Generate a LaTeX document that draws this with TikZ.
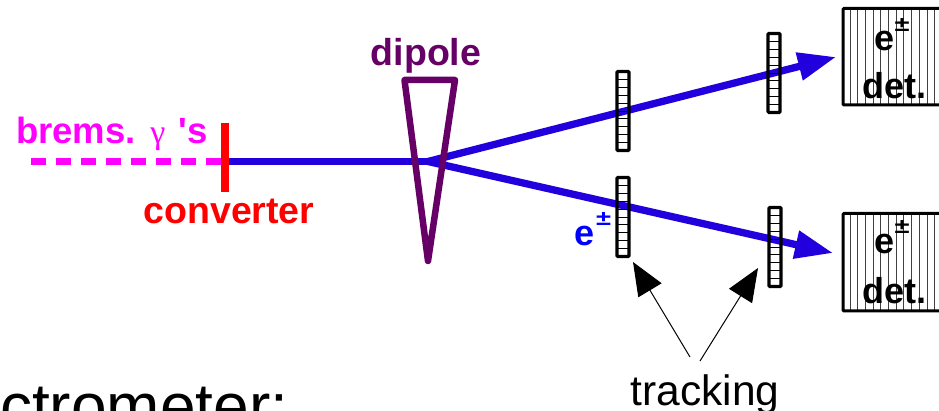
\documentclass[tikz,border=0pt]{standalone}
\usepackage{fontspec}
\setmainfont{Liberation Sans}
\newfontfamily\gamfont{Liberation Serif}
\usetikzlibrary{arrows.meta}
\definecolor{beamblue}{HTML}{2200DD}
\definecolor{dipcol}{HTML}{660066}
\definecolor{magcol}{HTML}{FF00FF}
\tikzset{
  lab/.style={inner sep=0pt,font=\bfseries\fontsize{#1}{#1}\selectfont,anchor=base},
  beam/.style={draw=beamblue,line width=7.3pt},
  beamhead/.style={-{Triangle[length=38pt,width=27pt,fill=beamblue]}},
  plane/.style={draw=black,line width=3.2pt,rounded corners=1pt},
  cell/.style={draw=black,line width=0.8pt},
  detbox/.style={draw=black,line width=3pt,rounded corners=1pt},
  hatch/.style={draw=black!75,line width=1pt},
  pointer/.style={draw=black,line width=1pt,-{Triangle[length=33pt,width=27pt,fill=black]}},
}
\newcommand{\wideplusminus}{\scalebox{1.3}[1]{±}}
\newcommand{\trackerplane}[3]{%
  \foreach \k in {1,...,9}{\draw[cell] (#1-6,#2+\k*7.9) -- (#1+6,#2+\k*7.9);}
  \draw[plane] (#1-6,#2) rectangle (#1+6,#2+79);
  \coordinate (#3) at (#1,#2);
}
% top, bottom, name, baselines of plus-minus, e, det.
\newcommand{\detector}[6]{%
  \foreach \k in {1,...,12}{\draw[hatch] (842.3+\k*7.7,#1) -- (842.3+\k*7.7,#2);}
  \draw[detbox] (943,#1) -- (843,#1) -- (843,#2) -- (943,#2);
  \coordinate (#3) at (843,#1+48);
  \node[lab=36] (#3a) at (884,#5) {e};
  \node[lab=21,anchor=base west] (#3b) at (894.5,#4) {\wideplusminus};
  \node[lab=36] (#3c) at (894.5,#6) {det.};
}
\begin{document}
\begin{tikzpicture}[x=1pt,y=-1pt]
\useasboundingbox (0,0) rectangle (939,411);
\coordinate (start) at (31,161.5);
\coordinate (conv) at (225,161.5);
\coordinate (vertex) at (428,161.5);
\coordinate (topend) at (836,57);
\coordinate (botend) at (833,253);
\coordinate (pa) at (690,357);
\coordinate (pb) at (700,361);
\coordinate (ta) at (633,262);
\coordinate (tb) at (758,268);
% beams
\draw[draw=magcol,line width=7pt,dash pattern=on 15pt off 10pt] (start) -- (conv);
\draw[beam] (conv) -- (vertex);
\draw[beam,beamhead] (vertex) -- (topend);
\draw[beam,beamhead] (vertex) -- (botend);
% converter
\draw[draw=red,line width=7.5pt] (225,123) -- (225,192);
% dipole
\draw[draw=dipcol,line width=6.5pt,line join=round] (404.5,80) -- (455,80) -- (428,261) -- cycle;
% tracking planes
\trackerplane{623}{71.5}{pl1}
\trackerplane{774}{33.5}{pl2}
\trackerplane{623}{177.5}{pl3}
\trackerplane{775}{207.5}{pl4}
% detectors
\detector{8.5}{105}{d1}{32}{51}{99}
\detector{213.5}{311}{d2}{234}{254}{304}
% pointers
\draw[pointer] (pa) -- (ta);
\draw[pointer] (pb) -- (tb);
% labels
\node[lab=37.5,text=dipcol] (ldip) at (426,66) {dipole};
\node[lab=36.5,text=magcol,anchor=base west] (lbrems) at (16,144) {brems.};
\node[text=magcol,inner sep=0pt,anchor=base,font=\gamfont\fontsize{34}{34}\selectfont] (lgam) at (158,144) {γ};
\node[lab=36.5,text=magcol,anchor=base east] (ls) at (208,144) {\textquotesingle s};
\node[lab=37.5,text=red] (lconv) at (229,224) {converter};
\node[lab=36,text=blue,anchor=base] (le) at (585,246) {e};
\node[lab=21,text=blue,anchor=base west] (lpm) at (596,226) {\wideplusminus};
\node[inner sep=0pt,anchor=base,font=\fontsize{42.5}{42.5}\selectfont] (ltr) at (705,405) {tracking};
\node[inner sep=0pt,anchor=base west,font=\fontsize{64}{64}\selectfont] (lsp) at (0,428) {ctrometer:};
\end{tikzpicture}
\end{document}
